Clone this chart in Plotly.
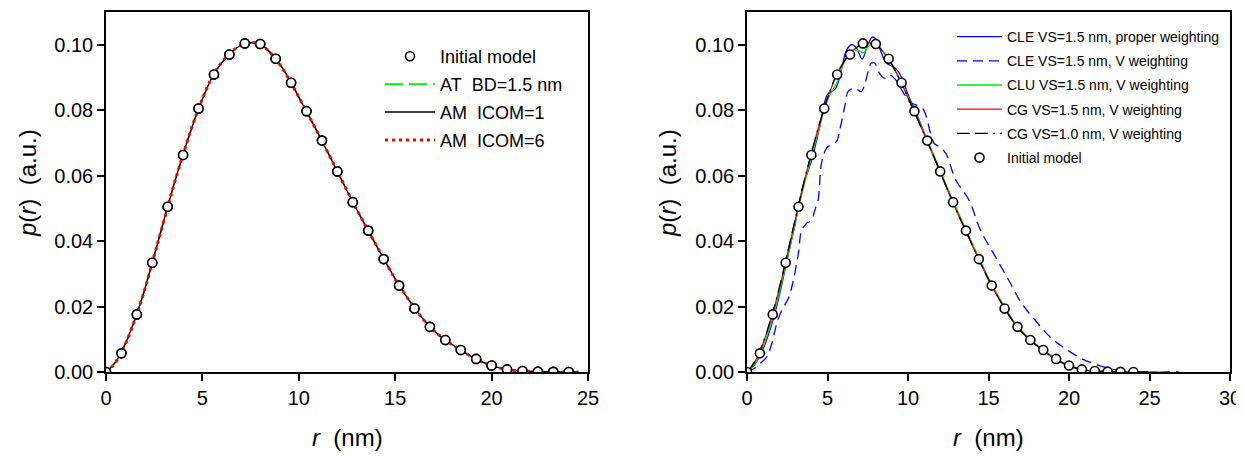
import plotly.graph_objects as go

# ---------------- data ----------------
# Initial model (circles), same on both panels
r_model = [0.0, 0.8, 1.6, 2.4, 3.2, 4.0, 4.8, 5.6, 6.4, 7.2, 8.0, 8.8, 9.6, 10.4, 11.2,
           12.0, 12.8, 13.6, 14.4, 15.2, 16.0, 16.8, 17.6, 18.4, 19.2, 20.0, 20.8,
           21.6, 22.4, 23.2, 24.0]
p_model = [0.0, 0.0057, 0.0176, 0.0334, 0.0505, 0.0663, 0.0805, 0.0909, 0.0970, 0.1004,
           0.1002, 0.0957, 0.0884, 0.0797, 0.0707, 0.0613, 0.0519, 0.0432, 0.0345,
           0.0264, 0.0194, 0.0138, 0.0098, 0.0067, 0.0040, 0.0020, 0.0008, 0.0003,
           0.0001, 0.00005, 0.0]

# Left panel curves
r_left = [0.0, 0.5, 1.0, 1.5, 2.0, 2.5, 3.0, 3.5, 4.0, 4.5, 5.0, 5.5, 6.0, 6.5, 7.0, 7.5,
          8.0, 8.5, 9.0, 9.5, 10.0, 10.5, 11.0, 11.5, 12.0, 12.5, 13.0, 13.5, 14.0, 14.5,
          15.0, 15.5, 16.0, 16.5, 17.0, 17.5, 18.0, 18.5, 19.0, 19.5, 20.0, 20.5, 21.0,
          21.5, 22.0, 22.5, 23.0, 23.5, 24.0, 24.5]
p_at_bd15 = [0.0, 0.0030, 0.0085, 0.0160, 0.0250, 0.0355, 0.0462, 0.0568, 0.0665, 0.0755,
             0.0835, 0.0900, 0.0945, 0.0977, 0.0998, 0.1007, 0.1001, 0.0978, 0.0942,
             0.0894, 0.0840, 0.0785, 0.0729, 0.0672, 0.0613, 0.0554, 0.0497, 0.0443,
             0.0389, 0.0336, 0.0284, 0.0238, 0.0196, 0.0158, 0.0127, 0.0102, 0.0082,
             0.0063, 0.0046, 0.0031, 0.0020, 0.0011, 0.0006, 0.0003, 0.0002, 0.0001,
             0.0001, 0.0, 0.0, 0.0]
p_am_icom1 = [0.0, 0.0031, 0.0086, 0.0161, 0.0251, 0.0356, 0.0463, 0.0568, 0.0665, 0.0755,
              0.0834, 0.0899, 0.0945, 0.0977, 0.0998, 0.1006, 0.1001, 0.0978, 0.0942,
              0.0895, 0.0840, 0.0785, 0.0729, 0.0671, 0.0613, 0.0554, 0.0497, 0.0442,
              0.0389, 0.0336, 0.0285, 0.0238, 0.0196, 0.0158, 0.0127, 0.0102, 0.0082,
              0.0063, 0.0046, 0.0031, 0.0020, 0.0011, 0.0006, 0.0003, 0.0002, 0.0001,
              0.0001, 0.0, 0.0, 0.0]
p_am_icom6 = [0.0, 0.0030, 0.0085, 0.0160, 0.0250, 0.0355, 0.0462, 0.0567, 0.0665, 0.0756,
              0.0835, 0.0900, 0.0946, 0.0978, 0.0998, 0.1007, 0.1001, 0.0977, 0.0941,
              0.0894, 0.0840, 0.0785, 0.0729, 0.0672, 0.0613, 0.0554, 0.0497, 0.0443,
              0.0389, 0.0336, 0.0284, 0.0238, 0.0196, 0.0158, 0.0127, 0.0102, 0.0082,
              0.0063, 0.0046, 0.0031, 0.0020, 0.0011, 0.0006, 0.0003, 0.0002, 0.0001,
              0.0001, 0.0, 0.0, 0.0]

# Right panel curves
r_cle_proper = [0.0, 0.5, 1.0, 1.5, 2.0, 2.5, 3.0, 3.5, 4.0, 4.5, 5.0, 5.5, 5.85, 6.2,
                6.5, 6.8, 7.15, 7.5, 7.8, 8.05, 8.35, 8.65, 9.05, 9.4, 9.7, 10.0, 10.5,
                11.0, 11.5, 12.0, 12.5, 13.0, 13.5, 14.0, 14.5, 15.0, 15.5, 16.0, 16.5,
                17.0, 17.5, 18.0, 18.5, 19.0, 19.5, 20.0, 20.5, 21.0, 21.5, 22.0, 22.5,
                23.0, 23.5, 24.0, 24.5, 25.0, 25.5]
p_cle_proper = [0.0, 0.0024, 0.0070, 0.0140, 0.0232, 0.0345, 0.0455, 0.0572, 0.0645,
                0.0745, 0.0848, 0.0866, 0.0922, 0.0985, 0.1000, 0.0990, 0.0956, 0.1000,
                0.1024, 0.1015, 0.0975, 0.0944, 0.0934, 0.0918, 0.0888, 0.0848, 0.0792,
                0.0732, 0.0672, 0.0612, 0.0553, 0.0496, 0.0442, 0.0388, 0.0335, 0.0284,
                0.0237, 0.0195, 0.0157, 0.0126, 0.0101, 0.0081, 0.0062, 0.0045, 0.0031,
                0.0020, 0.0011, 0.0006, 0.0003, 0.0002, 0.0001, 0.0001, 0.0, 0.0, 0.0,
                0.0, 0.0]

r_cle_v = [0.0, 0.5, 0.82, 1.23, 1.54, 1.85, 2.16, 2.57, 2.88, 3.19, 3.4, 3.7, 4.0, 4.22,
           4.42, 4.63, 4.94, 5.2, 5.56, 5.76, 6.13, 6.27, 6.69, 7.1, 7.72, 7.92, 8.23,
           8.54, 8.85, 9.2, 9.67, 10.08, 10.49, 10.9, 11.1, 11.62, 11.93, 12.35, 12.96,
           13.78, 14.5, 15.43, 16.25, 17.07, 17.9, 18.83, 19.75, 20.78, 21.81, 22.84,
           23.86, 25.0, 26.0, 26.85]
p_cle_v = [0.0, 0.0012, 0.0026, 0.0046, 0.0087, 0.0148, 0.0189, 0.0225, 0.0281, 0.0362,
           0.0434, 0.0454, 0.0464, 0.0495, 0.0526, 0.0638, 0.0684, 0.0694, 0.0704, 0.0740,
           0.0826, 0.0857, 0.0867, 0.0857, 0.0944, 0.0944, 0.0913, 0.0898, 0.0908,
           0.0895, 0.0857, 0.0826, 0.0816, 0.0806, 0.0786, 0.0699, 0.0689, 0.0668,
           0.0587, 0.0526, 0.0434, 0.0352, 0.0281, 0.0209, 0.0158, 0.0107, 0.0072,
           0.0041, 0.0021, 0.0007, 0.0002, 0.0, 0.0, 0.0]

r_clu = [0.0, 0.5, 1.0, 1.5, 2.0, 2.5, 3.0, 3.5, 4.0, 4.5, 5.0, 5.3, 5.6, 6.0, 6.5, 7.0,
         7.25, 7.5, 8.0, 8.5, 9.0, 9.5, 10.0, 10.5, 11.0, 11.5, 12.0, 12.5, 13.0, 13.5,
         14.0, 14.5, 15.0, 15.5, 16.0, 16.5, 17.0, 17.5, 18.0, 18.5, 19.0, 19.5, 20.0,
         20.5, 21.0, 21.5, 22.0, 22.5, 23.0, 23.5, 24.0, 24.5, 25.0, 25.5, 26.0]
p_clu = [0.0, 0.0026, 0.0078, 0.0150, 0.0240, 0.0347, 0.0455, 0.0562, 0.0655, 0.0748,
         0.0830, 0.0860, 0.0885, 0.0943, 0.0983, 0.0980, 0.0975, 0.0993, 0.1005, 0.0975,
         0.0937, 0.0893, 0.0841, 0.0787, 0.0731, 0.0674, 0.0616, 0.0557, 0.0500, 0.0446,
         0.0392, 0.0339, 0.0287, 0.0241, 0.0199, 0.0160, 0.0129, 0.0104, 0.0083, 0.0064,
         0.0047, 0.0032, 0.0021, 0.0012, 0.0006, 0.0003, 0.0002, 0.0001, 0.0001, 0.0,
         0.0, 0.0, 0.0, 0.0, 0.0]

r_cg = [0.0, 0.5, 1.0, 1.5, 2.0, 2.5, 3.0, 3.5, 4.0, 4.5, 5.0, 5.5, 6.0, 6.5, 7.0, 7.5,
        8.0, 8.5, 9.0, 9.5, 10.0, 10.5, 11.0, 11.5, 12.0, 12.5, 13.0, 13.5, 14.0, 14.5,
        15.0, 15.5, 16.0, 16.5, 17.0, 17.5, 18.0, 18.5, 19.0, 19.5, 20.0, 20.5, 21.0,
        21.5, 22.0, 22.5, 23.0, 23.5, 24.0, 24.5, 24.9]
p_cg15 = [0.0, 0.0032, 0.0088, 0.0163, 0.0253, 0.0358, 0.0465, 0.0570, 0.0667, 0.0757,
          0.0836, 0.0900, 0.0946, 0.0978, 0.0998, 0.1006, 0.1000, 0.0976, 0.0940, 0.0892,
          0.0838, 0.0783, 0.0727, 0.0670, 0.0611, 0.0552, 0.0495, 0.0441, 0.0387,
          0.0334, 0.0283, 0.0237, 0.0195, 0.0157, 0.0126, 0.0101, 0.0081, 0.0062,
          0.0045, 0.0030, 0.0019, 0.0011, 0.0006, 0.0003, 0.0002, 0.0001, 0.0001, 0.0,
          0.0, 0.0, 0.0]
p_cg10 = [0.0, 0.0033, 0.0090, 0.0165, 0.0256, 0.0361, 0.0468, 0.0573, 0.0669, 0.0758,
          0.0837, 0.0901, 0.0946, 0.0978, 0.0998, 0.1006, 0.1000, 0.0976, 0.0940, 0.0892,
          0.0838, 0.0783, 0.0727, 0.0670, 0.0611, 0.0552, 0.0495, 0.0441, 0.0387,
          0.0334, 0.0283, 0.0237, 0.0195, 0.0157, 0.0126, 0.0101, 0.0081, 0.0062,
          0.0045, 0.0030, 0.0019, 0.0011, 0.0006, 0.0003, 0.0002, 0.0001, 0.0001, 0.0,
          0.0, 0.0, 0.0]

y_ticks = [0.0, 0.02, 0.04, 0.06, 0.08, 0.10]
x_ticks_left = [0, 5, 10, 15, 20, 25]
x_ticks_right = [0, 5, 10, 15, 20, 25, 30]

# ---------------- figure ----------------
FONT = "Liberation Sans, Arial, sans-serif"
OFF = 8                       # page body margin of the browser
W, H = 1244 - OFF, 457 - OFF  # figure size
TOP, BOT = 12, 372            # plot area in page pixels
MT = TOP - OFF
MB = H - (BOT - OFF)
PH = BOT - TOP


def px(p):  # page x pixel -> paper x
    return (p - OFF) / W


def py(p):  # page y pixel -> paper y
    return (BOT - p) / PH


fig = go.Figure()

marker_model = dict(symbol="circle", size=9, color="white", line=dict(color="black", width=1.6))

# Left panel
fig.add_trace(go.Scatter(x=r_model, y=p_model, mode="markers", name="Initial model",
                         marker=marker_model, xaxis="x", yaxis="y", legend="legend",
                         legendgroup="a1", legendrank=1))
fig.add_trace(go.Scatter(x=r_left, y=p_at_bd15, mode="lines", name="AT\u00a0\u00a0BD=1.5 nm",
                         line=dict(color="#00ee00", width=1.6, dash="18px,6px", shape="spline"),
                         xaxis="x", yaxis="y", legend="legend", legendgroup="a2", legendrank=2))
fig.add_trace(go.Scatter(x=r_left, y=p_am_icom1, mode="lines", name="AM\u00a0\u00a0ICOM=1",
                         line=dict(color="black", width=1.4, shape="spline"),
                         xaxis="x", yaxis="y", legend="legend", legendgroup="a3", legendrank=3))
fig.add_trace(go.Scatter(x=r_left, y=p_am_icom6, mode="lines", name="AM\u00a0\u00a0ICOM=6",
                         line=dict(color="#ff0000", width=3, dash="3px,4px", shape="spline"),
                         xaxis="x", yaxis="y", legend="legend", legendgroup="a4", legendrank=4))
fig.add_trace(go.Scatter(x=r_model, y=p_model, mode="markers", showlegend=False,
                         marker=marker_model, xaxis="x", yaxis="y", hoverinfo="skip"))

# Right panel
fig.add_trace(go.Scatter(x=r_cle_proper, y=p_cle_proper, mode="lines",
                         name="CLE VS=1.5 nm, proper weighting",
                         line=dict(color="#0000ff", width=1.3, shape="spline"),
                         xaxis="x2", yaxis="y2", legend="legend2", legendgroup="b1", legendrank=1))
fig.add_trace(go.Scatter(x=r_cle_v, y=p_cle_v, mode="lines",
                         name="CLE VS=1.5 nm, V weighting",
                         line=dict(color="#0000ff", width=1.3, dash="10px,6px", shape="spline"),
                         xaxis="x2", yaxis="y2", legend="legend2", legendgroup="b2", legendrank=2))
fig.add_trace(go.Scatter(x=r_clu, y=p_clu, mode="lines",
                         name="CLU VS=1.5 nm, V weighting",
                         line=dict(color="#00ee00", width=1.3, shape="spline"),
                         xaxis="x2", yaxis="y2", legend="legend2", legendgroup="b3", legendrank=3))
fig.add_trace(go.Scatter(x=r_cg, y=p_cg15, mode="lines",
                         name="CG VS=1.5 nm, V weighting",
                         line=dict(color="#ff0000", width=1.3, shape="spline"),
                         xaxis="x2", yaxis="y2", legend="legend2", legendgroup="b4", legendrank=4))
fig.add_trace(go.Scatter(x=r_cg, y=p_cg10, mode="lines",
                         name="CG VS=1.0 nm, V weighting",
                         line=dict(color="black", width=1.3, dash="13px,5px,13px,5px,2px,5px",
                                   shape="spline"),
                         xaxis="x2", yaxis="y2", legend="legend2", legendgroup="b5", legendrank=5))
fig.add_trace(go.Scatter(x=r_model, y=p_model, mode="markers", name="Initial model",
                         marker=marker_model, xaxis="x2", yaxis="y2", legend="legend2",
                         legendgroup="b6", legendrank=6))

axis_common = dict(showline=True, linecolor="black", linewidth=1.5, mirror=True,
                   ticks="outside", ticklen=7, tickwidth=1.5, tickcolor="black",
                   showgrid=False, zeroline=False,
                   tickfont=dict(family=FONT, size=20, color="black"))

fig.update_layout(
    width=W, height=H,
    margin=dict(l=0, r=0, t=MT, b=MB, autoexpand=False),
    paper_bgcolor="white", plot_bgcolor="white",
    showlegend=True,
    xaxis=dict(domain=[px(106), px(588)], range=[0, 25], tickvals=x_ticks_left,
               anchor="y", **axis_common),
    yaxis=dict(domain=[0, 1], range=[0, 0.11], tickvals=y_ticks, tickformat=".2f",
               anchor="x", **axis_common),
    xaxis2=dict(domain=[px(747), px(1230)], range=[0, 30], tickvals=x_ticks_right,
                anchor="y2", **axis_common),
    yaxis2=dict(domain=[0, 1], range=[0, 0.11], tickvals=y_ticks, tickformat=".2f",
                anchor="x2", **axis_common),
    legend=dict(x=px(380), xanchor="left", y=py(38), yanchor="top",
                bgcolor="rgba(0,0,0,0)", borderwidth=0, tracegroupgap=1.5,
                font=dict(family=FONT, size=18, color="black"), itemwidth=50),
    legend2=dict(x=px(952), xanchor="left", y=py(21), yanchor="top",
                 bgcolor="rgba(0,0,0,0)", borderwidth=0, tracegroupgap=3,
                 font=dict(family=FONT, size=14, color="black"), itemwidth=45),
)

title_font = dict(family=FONT, size=24, color="black")
for cx in [(106 + 588) / 2, (747 + 1230) / 2]:
    fig.add_annotation(text="<i>r</i>\u00a0\u00a0(nm)", xref="paper", yref="paper",
                       x=px(cx), y=py(437), xanchor="center", yanchor="middle",
                       showarrow=False, font=title_font)
for cx in [27, 667]:
    fig.add_annotation(text="<i>p</i>(<i>r</i>)\u00a0\u00a0(a.u.)", xref="paper", yref="paper",
                       x=px(cx), y=py(183), xanchor="center", yanchor="middle",
                       textangle=-90, showarrow=False, font=title_font)

fig.write_html("out.html")
